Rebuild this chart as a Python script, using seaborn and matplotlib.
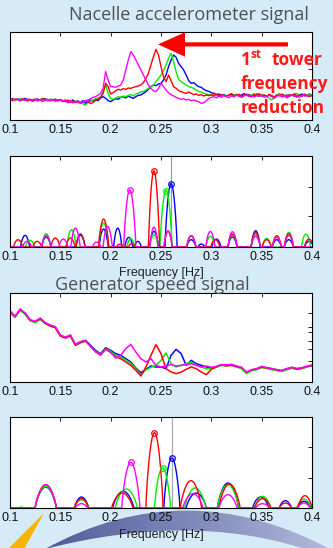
import numpy as np
import pandas as pd
import matplotlib
matplotlib.use("Agg")
import matplotlib.pyplot as plt
import seaborn as sns
from matplotlib.patches import Polygon, PathPatch
from matplotlib.path import Path

# ---------------- data ----------------
SERIES = ["blue", "green", "red", "magenta"]
COLORS = {"blue": "#0000ff", "green": "#00ee00", "red": "#ff0000", "magenta": "#ff00ff"}
XTICKS = [0.1, 0.15, 0.2, 0.25, 0.3, 0.35, 0.4]
XTICKLABELS = ["0.1", "0.15", "0.2", "0.25", "0.3", "0.35", "0.4"]

# Panel 1: nacelle accelerometer spectra (arbitrary units), f = 0.1 .. 0.4 step 0.0025
ACC_F = [round(0.1 + 0.0025 * i, 4) for i in range(121)]
ACC_BLUE = [62,64,60,63,58,61,65,60,62,57,60,63,59,61,64,58,60,62,57,59,61,
            55,58,52,56,60,54,57,53,58,50,55,60,57,62,58,66,70,65,58,55,
            60,64,62,68,70,66,72,68,65,70,74,75,80,85,92,100,105,103,108,110,
            120,135,160,180,195,188,170,160,150,135,118,110,112,105,100,98,92,88,86,82,
            80,76,78,74,77,72,75,78,74,76,72,75,79,73,76,70,74,78,75,72,
            74,70,76,72,68,74,78,72,70,75,71,76,73,69,74,78,72,75,77,73]
ACC_GREEN = [63,60,58,62,65,59,61,63,58,60,62,57,60,64,61,58,63,59,61,60,62,
             58,60,55,59,53,57,51,55,48,45,52,56,60,64,66,70,85,105,80,65,
             62,66,70,68,72,70,74,76,72,78,80,84,86,90,95,100,105,115,125,135,
             148,165,185,200,175,145,122,115,110,105,100,98,95,90,86,84,80,78,76,74,
             72,74,70,73,76,71,74,72,75,78,73,70,74,77,72,75,79,73,71,76,
             74,70,66,60,68,74,78,72,75,71,77,73,76,80,74,72,78,75,79,73]
ACC_RED = [60,58,63,61,59,64,60,57,62,60,63,58,61,65,59,62,58,60,63,57,60,
           58,55,60,53,57,52,56,50,54,58,55,49,53,58,62,68,80,110,100,78,
           82,88,92,90,94,92,96,95,98,100,102,105,112,125,140,165,190,212,195,160,
           130,115,135,118,100,95,88,85,82,80,84,80,76,78,74,76,72,75,73,76,
           74,78,72,76,73,70,75,79,72,74,77,71,75,78,73,70,76,74,79,72,
           75,71,77,73,69,75,72,78,74,70,76,73,79,72,75,71,77,74,70,76]
ACC_MAGENTA = [58,62,60,64,57,61,59,63,60,56,62,58,61,55,59,62,57,60,58,61,59,
               56,60,53,58,51,55,57,50,54,58,60,64,68,70,75,80,95,145,120,100,
               100,98,102,105,120,150,180,205,195,180,165,150,135,120,105,95,88,85,95,110,
               100,90,82,76,72,68,65,62,64,60,62,58,60,57,55,50,52,58,65,68,
               70,66,72,68,74,70,67,73,69,75,71,68,72,76,70,74,69,73,71,75,
               68,72,74,70,65,71,75,69,73,66,72,76,70,74,68,73,77,71,75,72]

# Panel 3: generator speed spectra (arbitrary units), f = 0.1 .. 0.4 step 0.005
GEN_F = [round(0.1 + 0.005 * j, 3) for j in range(61)]
GEN_BLUE = [210,195,217,205,185,180,190,177,170,165,140,133,140,112,120,125,110,95,85,103,
            95,85,80,70,60,42,28,38,48,45,45,40,80,98,85,50,65,55,50,45,
            42,45,50,50,52,47,42,27,35,38,45,42,39,35,33,38,42,39,41,46,50]
GEN_GREEN = [208,194,215,203,184,178,188,175,168,163,138,133,138,110,118,122,108,93,84,101,
             92,80,75,66,56,40,22,36,44,50,65,87,55,45,50,55,60,50,45,40,
             40,44,50,49,51,45,40,25,34,37,44,40,37,34,32,37,41,38,40,45,49]
GEN_RED = [212,196,218,206,186,181,189,176,168,163,138,132,138,110,118,123,108,92,82,100,
           88,75,70,60,50,35,18,45,80,112,85,40,30,25,30,38,45,40,30,22,
           38,46,52,48,50,46,43,30,36,40,44,43,40,37,34,40,44,38,42,47,49]
GEN_MAGENTA = [214,197,219,207,187,182,192,178,171,166,141,135,141,113,121,124,106,90,80,98,
               90,72,80,100,113,90,70,60,70,50,45,48,52,48,50,52,55,50,45,48,
               44,47,52,51,53,48,44,30,37,40,47,43,40,37,35,40,44,41,43,47,51]

# Panel 2: accelerometer spectral peaks (centre Hz, height, base width Hz)
P2_BLUE_C = [0.115,0.136,0.170,0.193,0.207,0.218,0.227,0.243,0.260,0.280,0.290,0.305,0.321,0.344,0.365,0.377,0.397]
P2_BLUE_H = [35,30,39,54,57,29,17,47,191,22,9,24,30,49,22,22,17]
P2_BLUE_W = [0.009,0.009,0.009,0.009,0.008,0.008,0.007,0.009,0.012,0.009,0.007,0.009,0.009,0.009,0.009,0.009,0.009]
P2_GREEN_C = [0.120,0.136,0.161,0.193,0.220,0.243,0.255,0.280,0.299,0.321,0.344,0.355,0.377,0.394]
P2_GREEN_H = [20,40,52,72,25,37,170,34,32,35,37,26,44,39]
P2_GREEN_W = [0.009,0.009,0.009,0.010,0.008,0.008,0.012,0.009,0.009,0.009,0.009,0.009,0.009,0.009]
P2_RED_C = [0.108,0.127,0.145,0.160,0.170,0.193,0.209,0.221,0.243,0.257,0.280,0.304,0.321,0.344,0.355,0.365,0.377,0.397]
P2_RED_H = [22,17,27,27,35,84,8,10,229,47,34,22,39,43,22,34,40,24]
P2_RED_W = [0.009,0.009,0.009,0.009,0.009,0.010,0.007,0.007,0.011,0.008,0.009,0.009,0.009,0.009,0.009,0.009,0.009,0.009]
P2_MAGENTA_C = [0.117,0.136,0.153,0.165,0.186,0.197,0.219,0.243,0.257,0.280,0.299,0.321,0.344,0.365,0.377]
P2_MAGENTA_H = [17,35,24,57,15,62,172,60,49,34,47,46,32,29,35]
P2_MAGENTA_W = [0.009,0.009,0.009,0.009,0.008,0.009,0.012,0.008,0.008,0.009,0.009,0.009,0.009,0.009,0.009]

# Panel 4: generator speed spectral peaks
P4_BLUE_C = [0.1355,0.171,0.2125,0.2608,0.285,0.3165,0.349,0.3735,0.392]
P4_BLUE_H = [63,33,50,150,45,75,33,22,20]
P4_BLUE_W = [0.021,0.014,0.021,0.016,0.020,0.021,0.016,0.012,0.014]
P4_GREEN_C = [0.111,0.1355,0.171,0.2155,0.2515,0.284,0.3165,0.351,0.392]
P4_GREEN_H = [3,65,25,57,120,60,70,35,27]
P4_GREEN_W = [0.004,0.021,0.014,0.022,0.016,0.021,0.021,0.016,0.014]
P4_RED_C = [0.1355,0.171,0.2115,0.2435,0.2797,0.318,0.351,0.3735,0.393]
P4_RED_H = [70,28,45,226,82,72,28,15,37]
P4_RED_W = [0.021,0.014,0.021,0.017,0.021,0.021,0.016,0.012,0.014]
P4_MAGENTA_C = [0.1355,0.171,0.220,0.2817,0.3165,0.351,0.392]
P4_MAGENTA_H = [70,13,137,43,40,13,15]
P4_MAGENTA_W = [0.021,0.012,0.018,0.020,0.018,0.014,0.012]

MAIN_PEAKS_2 = {"magenta": (0.219, 172), "red": (0.243, 229), "green": (0.255, 170), "blue": (0.260, 191)}
MAIN_PEAKS_4 = {"magenta": (0.220, 137), "red": (0.2435, 226), "green": (0.2515, 120), "blue": (0.2608, 150)}

# ---------------- style ----------------
BG = "#d5ebf7"
sns.set_theme(style="white")
plt.rcParams["font.family"] = ["Liberation Sans", "DejaVu Sans"]

W, H = 333, 548
fig = plt.figure(figsize=(W / 100, H / 100), dpi=100, facecolor=BG)

# background decoration layer (pixel coordinates)
bg = fig.add_axes([0, 0, 1, 1], zorder=0)
bg.set_xlim(0, W); bg.set_ylim(H, 0); bg.axis("off")
verts = [(45, 549), (185, 472), (330, 549), (305, 549), (190, 512), (45, 549), (45, 549)]
codes = [Path.MOVETO, Path.CURVE3, Path.CURVE3, Path.LINETO, Path.CURVE3, Path.CURVE3, Path.CLOSEPOLY]
sw = PathPatch(Path(verts, codes), facecolor="none", edgecolor="none")
bg.add_patch(sw)
grad = np.linspace(0, 1, 256).reshape(1, -1)
cmap = matplotlib.colors.LinearSegmentedColormap.from_list("sw", ["#4f5d98", "#7e88ba", "#b4bbda"])
im = bg.imshow(grad, extent=[45, 333, 549, 470], aspect="auto", cmap=cmap, zorder=1)
im.set_clip_path(sw)
bg.add_patch(Polygon([(8, 549), (24, 549), (44, 513)], closed=True, facecolor="#f6b400", edgecolor="none"))
bg.set_xlim(0, W); bg.set_ylim(H, 0)


def make_ax(left, top, right, bottom):
    ax = fig.add_axes([left / W, 1 - bottom / H, (right - left) / W, (bottom - top) / H], zorder=2)
    ax.set_facecolor("white")
    for s in ax.spines.values():
        s.set_visible(True)
        s.set_color("black")
        s.set_linewidth(0.8)
    ax.set_xlim(0.1, 0.4)
    ax.set_xticks(XTICKS)
    ax.set_xticklabels(XTICKLABELS)
    ax.tick_params(axis="both", direction="in", length=3, width=0.6, top=True, right=True,
                   labelsize=9, pad=3, colors="black", labelcolor="#111111")
    ax.tick_params(axis="y", labelleft=False)
    return ax


def long_df(f, d):
    rows = []
    for name, vals in d.items():
        rows.append(pd.DataFrame({"f": f, "v": vals, "series": name}))
    return pd.concat(rows, ignore_index=True)


def arches(f, centers, heights, widths):
    y = np.zeros_like(f)
    for c, h, w in zip(centers, heights, widths):
        m = np.abs(f - c) < w / 2
        y[m] = np.maximum(y[m], h * np.cos(np.pi * (f[m] - c) / w) ** 0.75)
    return y


# Panel 1
ax1 = make_ax(10, 32, 312, 120)
df1 = long_df(ACC_F, {"blue": ACC_BLUE, "green": ACC_GREEN, "red": ACC_RED, "magenta": ACC_MAGENTA})
sns.lineplot(data=df1, x="f", y="v", hue="series", hue_order=SERIES, palette=COLORS,
             legend=False, ax=ax1, lw=1.0, estimator=None, sort=False)
ax1.set_ylim(0, 264); ax1.set_yticks([152])
ax1.set_xlabel(""); ax1.set_ylabel("")
ax1.set_xlim(0.1, 0.4)

# Panel 2
ax2 = make_ax(10, 156, 312, 247)
ff = np.linspace(0.1, 0.4, 1501)
p2 = {"blue": arches(ff, P2_BLUE_C, P2_BLUE_H, P2_BLUE_W),
      "green": arches(ff, P2_GREEN_C, P2_GREEN_H, P2_GREEN_W),
      "red": arches(ff, P2_RED_C, P2_RED_H, P2_RED_W),
      "magenta": arches(ff, P2_MAGENTA_C, P2_MAGENTA_H, P2_MAGENTA_W)}
ax2.axvline(MAIN_PEAKS_2["blue"][0], color="#8c8cff", lw=0.8, zorder=1)
sns.lineplot(data=long_df(ff, p2), x="f", y="v", hue="series", hue_order=SERIES, palette=COLORS,
             legend=False, ax=ax2, lw=1.0, estimator=None, sort=False)
for k in SERIES:
    x, y = MAIN_PEAKS_2[k]
    ax2.plot([x], [y], marker="o", ms=4, mfc="none", mec=COLORS[k], mew=0.9)
ax2.set_ylim(0, 274); ax2.set_yticks([92, 182])
ax2.set_xlabel(""); ax2.set_ylabel("")
ax2.set_xlim(0.1, 0.4)

# Panel 3
ax3 = make_ax(10, 293, 312, 382)
df3 = long_df(GEN_F, {"blue": GEN_BLUE, "green": GEN_GREEN, "red": GEN_RED, "magenta": GEN_MAGENTA})
sns.lineplot(data=df3, x="f", y="v", hue="series", hue_order=SERIES, palette=COLORS,
             legend=False, ax=ax3, lw=1.1, estimator=None, sort=False)
ax3.set_ylim(0, 267); ax3.set_yticks([62, 98, 123, 150, 165, 206])
ax3.set_xlabel(""); ax3.set_ylabel("")
ax3.set_xlim(0.1, 0.4)

# Panel 4
ax4 = make_ax(10, 417, 312, 508)
p4 = {"blue": arches(ff, P4_BLUE_C, P4_BLUE_H, P4_BLUE_W),
      "green": arches(ff, P4_GREEN_C, P4_GREEN_H, P4_GREEN_W),
      "red": arches(ff, P4_RED_C, P4_RED_H, P4_RED_W),
      "magenta": arches(ff, P4_MAGENTA_C, P4_MAGENTA_H, P4_MAGENTA_W)}
ax4.axvline(MAIN_PEAKS_4["blue"][0], color="#aaaaaa", lw=0.9, zorder=1)
sns.lineplot(data=long_df(ff, p4), x="f", y="v", hue="series", hue_order=SERIES, palette=COLORS,
             legend=False, ax=ax4, lw=1.0, estimator=None, sort=False)
for k in SERIES:
    x, y = MAIN_PEAKS_4[k]
    ax4.plot([x], [y], marker="o", ms=4, mfc="none", mec=COLORS[k], mew=0.9)
ax4.set_ylim(0, 273); ax4.set_yticks([91, 182])
ax4.set_xlabel(""); ax4.set_ylabel("")
ax4.set_xlim(0.1, 0.4)

# overlay layer for texts and arrow (pixel coordinates)
ov = fig.add_axes([0, 0, 1, 1], zorder=5)
ov.set_xlim(0, W); ov.set_ylim(H, 0); ov.axis("off")
ov.patch.set_alpha(0)

title_kw = dict(family=["Open Sans", "DejaVu Sans"], fontsize=13, color="#505050", va="baseline", ha="center")
ov.text(189, 19.5, "Nacelle accelerometer signal", **title_kw)
ov.text(152, 290, "Generator speed signal", **title_kw)

lab_kw = dict(fontsize=9, color="#222222", ha="center", va="center")
ov.text(161, 273, "Frequency [Hz]", zorder=1, **lab_kw)
ov.text(161, 535, "Frequency [Hz]", **lab_kw)

ov.add_patch(Polygon([(288, 42.3), (185, 42.3), (185, 32.3), (158, 44.4), (185, 56.7),
                      (185, 46.5), (288, 46.5)], closed=True, facecolor="#ff0000", edgecolor="none"))
red_kw = dict(family=["Open Sans", "DejaVu Sans"], fontweight="bold", color="#ff1a1a", va="baseline")
ov.text(241, 65, "1", fontsize=12.5, ha="left", **red_kw)
ov.text(250.5, 58, "st", fontsize=8.5, ha="left", **red_kw)
ov.text(322, 65, "tower", fontsize=12.5, ha="right", **red_kw)
ov.text(241, 89, "frequency", fontsize=12.5, ha="left", **red_kw)
ov.text(241, 113, "reduction", fontsize=12.5, ha="left", **red_kw)

fig.savefig("out.png", dpi=100, facecolor=BG)
